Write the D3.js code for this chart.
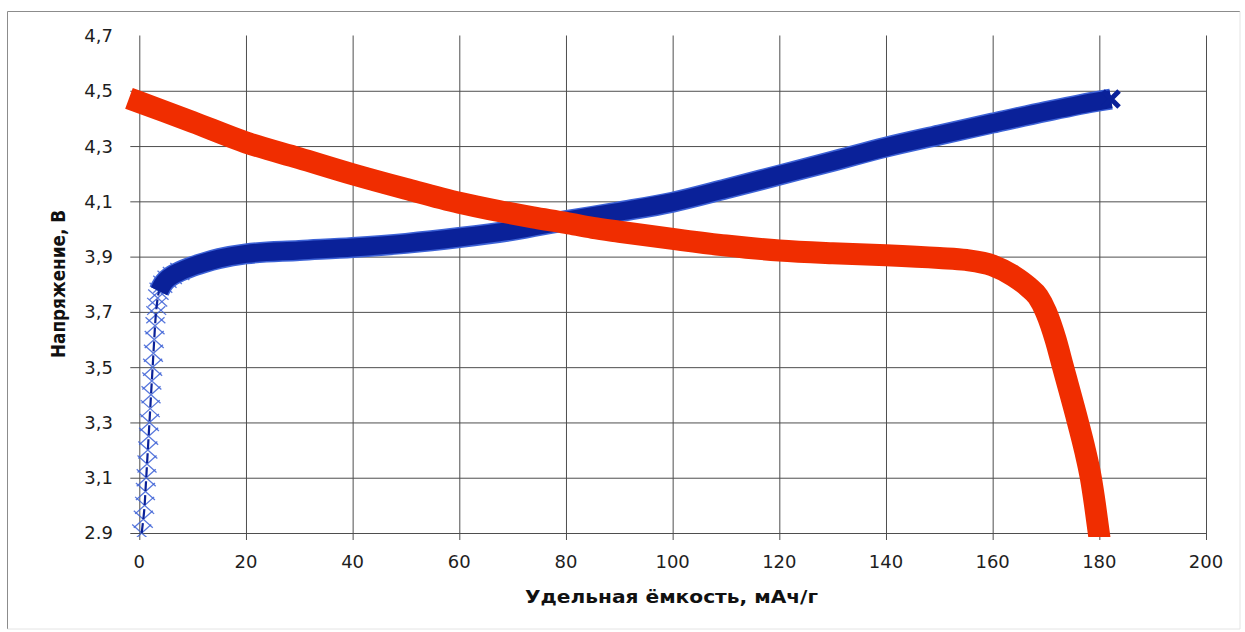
<!DOCTYPE html>
<html>
<head>
<meta charset="utf-8">
<script src="https://cdn.jsdelivr.net/npm/d3@7"></script>
<style>
  html, body { margin: 0; padding: 0; background: #ffffff; }
  svg { display: block; }
</style>
</head>
<body>
<svg id="chart" width="1245" height="632"></svg>
<script>
// ---------- data ----------
const xTicks = [0, 20, 40, 60, 80, 100, 120, 140, 160, 180, 200];
const xTickLabels = ["0", "20", "40", "60", "80", "100", "120", "140", "160", "180", "200"];
const yTicks = [2.9, 3.1, 3.3, 3.5, 3.7, 3.9, 4.1, 4.3, 4.5, 4.7];
const yTickLabels = ["2.9", "3,1", "3,3", "3,5", "3,7", "3,9", "4,1", "4,3", "4,5", "4,7"];
const xTitle = "Удельная ёмкость, мАч/г";
const yTitle = "Напряжение, В";

// discharge curve (red): capacity, voltage
const dischargeCap = [0, 4.5, 10, 20, 30, 40, 50, 60, 67.4, 73.8, 80, 85, 90, 100, 110, 120, 130, 140, 150, 155, 160, 163.9, 166.7, 168.5, 170, 171.8, 173.2, 176, 177.3, 178.4, 179.2, 179.9];
const dischargeV   = [4.459, 4.427, 4.387, 4.313, 4.256, 4.198, 4.145, 4.095, 4.065, 4.042, 4.022, 4.004, 3.99, 3.964, 3.94, 3.922, 3.912, 3.905, 3.895, 3.888, 3.868, 3.83, 3.79, 3.755, 3.70, 3.60, 3.50, 3.30, 3.20, 3.10, 3.00, 2.90];

// charge curve (blue), steep start: individual markers visible
const chargeStartCap = [0.45, 0.75, 1.0, 1.15, 1.3, 1.45, 1.6, 1.75, 1.9, 2.05, 2.2, 2.35, 2.5, 2.65, 2.8, 2.95, 3.1, 3.25, 3.45, 3.7];
const chargeStartV   = [2.90, 2.95, 3.00, 3.05, 3.10, 3.15, 3.20, 3.25, 3.30, 3.35, 3.40, 3.45, 3.50, 3.55, 3.60, 3.65, 3.69, 3.72, 3.75, 3.775];
// charge curve (blue), dense part: markers merge into a solid band
const chargeCap = [3.7, 4.4, 5.2, 6.2, 7.6, 9.5, 12, 15, 20, 30, 40, 50, 60, 70, 80, 90, 100, 110, 120, 130, 140, 150, 160, 170, 180, 182.2];
const chargeV   = [3.775, 3.80, 3.818, 3.832, 3.846, 3.861, 3.877, 3.893, 3.91, 3.922, 3.933, 3.948, 3.969, 3.995, 4.03, 4.062, 4.097, 4.145, 4.195, 4.245, 4.296, 4.34, 4.383, 4.425, 4.463, 4.47];

// ---------- layout ----------
const W = 1245, H = 632;
const plot = { left: 139.3, right: 1206, top: 35.5, bottom: 533 };
const RED = "#f02d00", NAVY = "#0a2199", LIGHTBLUE = "#3d62d6";
const GRID = "#4e4e4e";

const svg = d3.select("#chart");
const x = d3.scaleLinear().domain([0, 200]).range([plot.left, plot.right]);
const y = d3.scaleLinear().domain([2.9, 4.7]).range([plot.bottom, plot.top]);

// outer frame
svg.append("line").attr("x1", 7.5).attr("x2", 1240).attr("y1", 11.5).attr("y2", 11.5).attr("stroke", "#8c8c8c");
svg.append("line").attr("x1", 7.5).attr("x2", 7.5).attr("y1", 11.5).attr("y2", 629).attr("stroke", "#8c8c8c");
svg.append("line").attr("x1", 1240).attr("x2", 1240).attr("y1", 11.5).attr("y2", 629).attr("stroke", "#e4e4e4");
svg.append("line").attr("x1", 7.5).attr("x2", 1240).attr("y1", 629).attr("y2", 629).attr("stroke", "#e4e4e4");

// horizontal gridlines (with left tick) via axis
const yAxis = d3.axisLeft(y).tickValues(yTicks.slice(0, -1)).tickSize(-(plot.right - plot.left)).tickFormat("");
const gy = svg.append("g").attr("transform", `translate(${plot.left},0)`).call(yAxis);
gy.select(".domain").remove();
gy.selectAll(".tick line").attr("stroke", GRID).attr("x1", -9);

// vertical gridlines (with bottom tick)
const xAxis = d3.axisBottom(x).tickValues(xTicks).tickSize(-(plot.bottom - plot.top)).tickFormat("");
const gx = svg.append("g").attr("transform", `translate(0,${plot.bottom})`).call(xAxis);
gx.select(".domain").remove();
gx.selectAll(".tick line").attr("stroke", GRID).attr("y1", 7);

// tick labels
svg.append("g").selectAll("text").data(yTicks).join("text")
  .attr("x", 113).attr("y", d => y(d)).attr("dy", "0.36em")
  .attr("text-anchor", "end")
  .attr("font-family", "DejaVu Sans, Verdana, sans-serif").attr("font-size", 18)
  .attr("fill", "#1e1e1e")
  .text((d, i) => yTickLabels[i]);

svg.append("g").selectAll("text").data(xTicks).join("text")
  .attr("x", d => x(d)).attr("y", plot.bottom + 29).attr("dy", "0.36em")
  .attr("text-anchor", "middle")
  .attr("font-family", "DejaVu Sans, Verdana, sans-serif").attr("font-size", 18)
  .attr("fill", "#1e1e1e")
  .text((d, i) => xTickLabels[i]);

// axis titles
svg.append("text")
  .attr("x", 671.5).attr("y", 597).attr("dy", "0.35em")
  .attr("text-anchor", "middle")
  .attr("font-family", "DejaVu Sans, Verdana, sans-serif").attr("font-weight", "bold").attr("font-size", 18)
  .attr("textLength", 293).attr("lengthAdjust", "spacingAndGlyphs")
  .attr("fill", "#111")
  .text(xTitle);

svg.append("text")
  .attr("transform", "translate(58,284) scale(1.35,1) rotate(-90)")
  .attr("text-anchor", "middle").attr("dy", "0.35em")
  .attr("font-family", "DejaVu Sans, Verdana, sans-serif").attr("font-weight", "bold").attr("font-size", 15)
  .attr("textLength", 148).attr("lengthAdjust", "spacingAndGlyphs")
  .attr("fill", "#111")
  .text(yTitle);

// clip for series
svg.append("clipPath").attr("id", "clip").append("rect")
  .attr("x", 0).attr("y", 0).attr("width", W).attr("height", y(2.9) + 4);

const series = svg.append("g").attr("clip-path", "url(#clip)");

// ---- blue charge curve ----
const chargeStart = chargeStartCap.map((c, i) => [c, chargeStartV[i]]);
const chargeMain = chargeCap.map((c, i) => [c, chargeV[i]]);
const line = d3.line().x(d => x(d[0])).y(d => y(d[1])).curve(d3.curveMonotoneX);

// sparse cross markers in the steep start
const cross = (cx, cy, hw, hh) => `M${cx - hw},${cy - hh}L${cx + hw},${cy + hh}M${cx - hw},${cy + hh}L${cx + hw},${cy - hh}`;
series.append("g").selectAll("path").data(chargeStart.concat(chargeMain.slice(1, 5))).join("path")
  .attr("d", d => cross(x(d[0]), y(d[1]), 9.5, 8.5))
  .attr("fill", "none").attr("stroke", LIGHTBLUE).attr("stroke-width", 1.3).attr("opacity", 0.85);
series.append("path").attr("d", line(chargeStart))
  .attr("fill", "none").attr("stroke", NAVY).attr("stroke-width", 2.2).attr("stroke-dasharray", "10,4");

// dense band
series.append("path").attr("d", line(chargeMain))
  .attr("fill", "none").attr("stroke", LIGHTBLUE).attr("stroke-width", 21).attr("stroke-linejoin", "round");
series.append("path").attr("d", line(chargeMain))
  .attr("fill", "none").attr("stroke", NAVY).attr("stroke-width", 18).attr("stroke-linejoin", "round");
// end marker
const last = chargeMain[chargeMain.length - 1];
series.append("path").attr("d", cross(x(last[0]), y(last[1]), 8, 8))
  .attr("fill", "none").attr("stroke", NAVY).attr("stroke-width", 5);

// ---- red discharge curve ----
const discharge = dischargeCap.map((c, i) => [c, dischargeV[i]]);
series.append("path").attr("d", line(discharge))
  .attr("fill", "none").attr("stroke", RED).attr("stroke-width", 22)
  .attr("stroke-linecap", "square").attr("stroke-linejoin", "round");
</script>
</body>
</html>
